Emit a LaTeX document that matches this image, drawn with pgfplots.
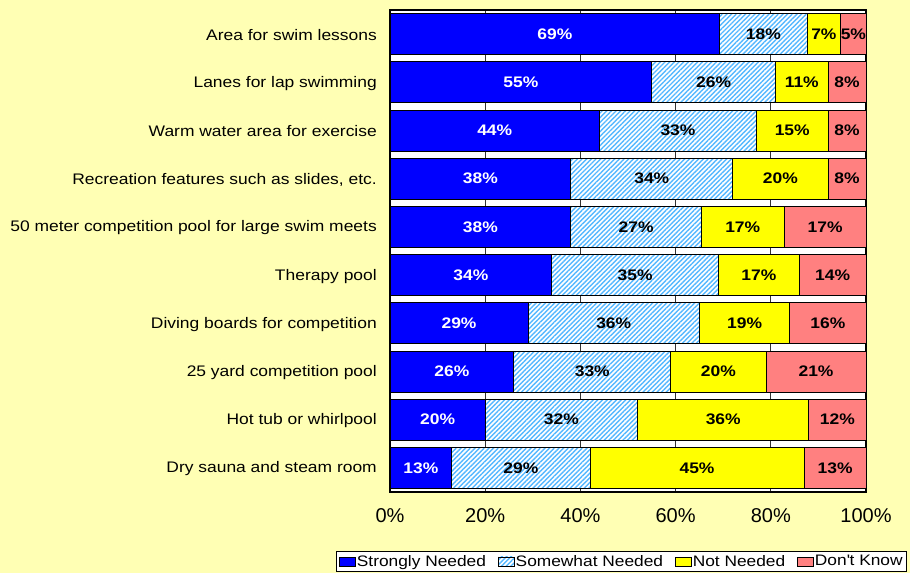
\documentclass[border=0pt]{standalone}
\usepackage{fontspec}
\setmainfont{Liberation Sans}
\newfontfamily\catfont{Liberation Sans}[FakeStretch=1.14]
\usepackage{pgfplots}
\usepackage{pgfplotstable}
\pgfplotsset{compat=1.18}
\usetikzlibrary{patterns.meta}

\definecolor{bgyellow}{HTML}{FFFFB4}
\definecolor{strong}{HTML}{0000FF}
\definecolor{hatch}{HTML}{55B8FF}
\definecolor{notneed}{HTML}{FFFF00}
\definecolor{dunno}{HTML}{FF8080}

% shares of answers per facility, row 1 = top bar
\pgfplotstableread{
row sn   sw   nn   dk
1   69.3 18.3 7.1  5.3
2   55   26   11   8
3   44   33   15   8
4   38   34   20   8
5   38   27.4 17.4 17.2
6   34   35   17   14
7   29   36   19   16
8   26   33   20   21
9   20   32   36   12
10  13   29   45   13
}\survey

% stacked bars put nodes near coords in the middle of each segment already
\pgfplotsset{
  seg/.style={
    draw=black, line width=0.8bp,
    point meta=explicit,
    nodes near coords={\pgfmathprintnumber[fixed,precision=0]{\pgfplotspointmeta}\%},
    every node near coord/.append style={
      anchor=center, inner sep=0pt,
      font=\catfont\fontsize{15.3bp}{18bp}\selectfont\bfseries},
    legend image code/.code={\draw[#1,draw=black,line width=0.7bp] (0bp,-4.5bp) rectangle (16bp,4.5bp);},
  },
}

\begin{document}
\begin{tikzpicture}
\fill[bgyellow] (0,0) rectangle (910bp,573bp);
\useasboundingbox (0,0) rectangle (910bp,573bp);
\begin{axis}[
  at={(390bp,81bp)}, anchor=south west,
  scale only axis,
  width=476bp, height=482bp,
  xbar stacked,
  bar width=41bp,
  xmin=0, xmax=100,
  ymin=0.5, ymax=10.5,
  y dir=reverse,
  enlargelimits=false,
  clip=false,
  /pgf/number format/assume math mode=true,
  axis background/.style={fill=white},
  axis line style={line width=1.2bp},
  xmajorgrids=true,
  major grid style={black!80, line width=0.8bp},
  major tick length=0pt,
  xtick={0,20,40,60,80,100},
  xticklabels={0\%,20\%,40\%,60\%,80\%,100\%},
  xticklabel style={font=\fontsize{20bp}{24bp}\selectfont, inner sep=0pt, yshift=-16bp},
  ytick={1,...,10},
  yticklabels={Area for swim lessons, Lanes for lap swimming, Warm water area for exercise,
    {Recreation features such as slides, etc.}, 50 meter competition pool for large swim meets,
    Therapy pool, Diving boards for competition, 25 yard competition pool,
    Hot tub or whirlpool, Dry sauna and steam room},
  yticklabel style={font=\catfont\fontsize{15.3bp}{18bp}\selectfont, inner sep=0pt, xshift=-13bp, yshift=-1bp},
  legend columns=4,
  legend style={at={(1.0861,-0.166)}, anchor=south east, draw=black, fill=white,
    line width=0.7bp, inner xsep=3bp, inner ysep=2bp,
    font=\catfont\fontsize{15.2bp}{18bp}\selectfont,
    /tikz/every even column/.append style={column sep=11bp},
    nodes={inner xsep=1bp, inner ysep=2bp}},
]
\addplot[seg, fill=strong, every node near coord/.append style={text=white}]
  table[x=sn, y=row, meta=sn] {\survey};
\addplot[seg, fill=white, postaction={pattern={Lines[angle=45,distance=3.3bp,line width=1.4bp]}, pattern color=hatch}]
  table[x=sw, y=row, meta=sw] {\survey};
\addplot[seg, fill=notneed]
  table[x=nn, y=row, meta=nn] {\survey};
\addplot[seg, fill=dunno]
  table[x=dk, y=row, meta=dk] {\survey};
\legend{Strongly Needed, Somewhat Needed, Not Needed, Don\textquotesingle t Know}
\end{axis}
\end{tikzpicture}
\end{document}
